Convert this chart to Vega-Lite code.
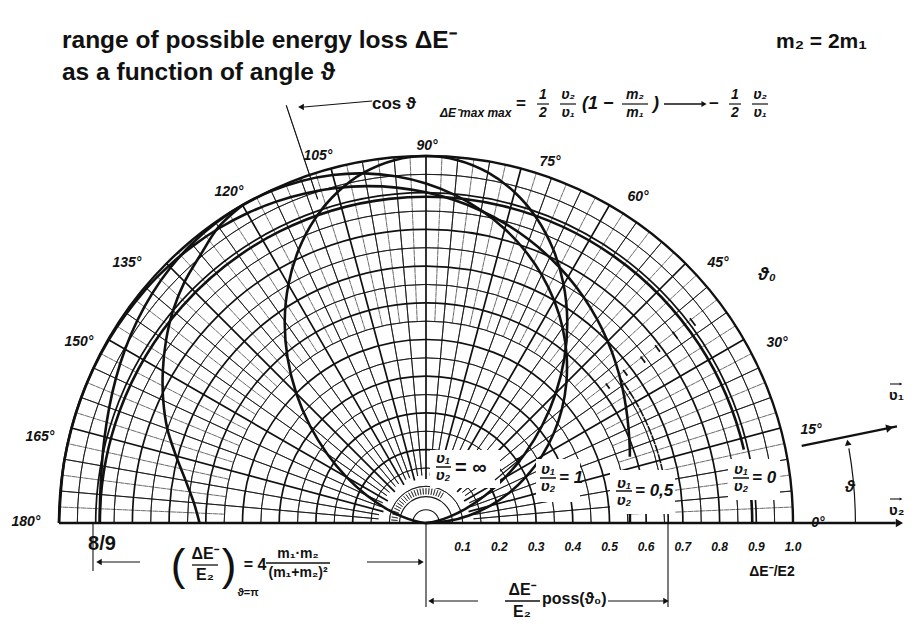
{
  "$schema": "https://vega.github.io/schema/vega-lite/v6.json",
  "width": 913,
  "height": 633,
  "padding": 0,
  "autosize": "none",
  "background": "white",
  "config": {
    "view": {"stroke": null},
    "text": {"font": "Liberation Sans, Arial, sans-serif", "fontWeight": "bold", "color": "#111"},
    "rule": {"color": "#111"},
    "point": {"color": "#111", "filled": true, "opacity": 1}
  },
  "data": {"values": [{}]},
  "datasets": {
    "circThin": [{"r": 0.1}, {"r": 0.15}, {"r": 0.25}, {"r": 0.35}, {"r": 0.45}, {"r": 0.55}, {"r": 0.65}, {"r": 0.75}, {"r": 0.85}, {"r": 0.95}],
    "circHeavy": [{"r": 0.2}, {"r": 0.3}, {"r": 0.4}, {"r": 0.5}, {"r": 0.6}, {"r": 0.7}, {"r": 0.8}, {"r": 0.9}],
    "spokeThin": [{"deg": 5}, {"deg": 10}, {"deg": 20}, {"deg": 25}, {"deg": 35}, {"deg": 40}, {"deg": 50}, {"deg": 55}, {"deg": 65}, {"deg": 70}, {"deg": 80}, {"deg": 85}, {"deg": 95}, {"deg": 100}, {"deg": 110}, {"deg": 115}, {"deg": 125}, {"deg": 130}, {"deg": 140}, {"deg": 145}, {"deg": 155}, {"deg": 160}, {"deg": 170}, {"deg": 175}],
    "spokeHeavy": [{"deg": 15}, {"deg": 30}, {"deg": 45}, {"deg": 60}, {"deg": 75}, {"deg": 90}, {"deg": 105}, {"deg": 120}, {"deg": 135}, {"deg": 150}, {"deg": 165}],
    "spokeHalf": [{"deg": 2.5}, {"deg": 7.5}, {"deg": 12.5}, {"deg": 17.5}, {"deg": 22.5}, {"deg": 27.5}, {"deg": 32.5}, {"deg": 37.5}, {"deg": 42.5}, {"deg": 47.5}, {"deg": 52.5}, {"deg": 57.5}, {"deg": 62.5}, {"deg": 67.5}, {"deg": 72.5}, {"deg": 77.5}, {"deg": 82.5}, {"deg": 87.5}, {"deg": 92.5}, {"deg": 97.5}, {"deg": 102.5}, {"deg": 107.5}, {"deg": 112.5}, {"deg": 117.5}, {"deg": 122.5}, {"deg": 127.5}, {"deg": 132.5}, {"deg": 137.5}, {"deg": 142.5}, {"deg": 147.5}, {"deg": 152.5}, {"deg": 157.5}, {"deg": 162.5}, {"deg": 167.5}, {"deg": 172.5}, {"deg": 177.5}],
    "ring": [{"deg": 60}, {"deg": 65}, {"deg": 70}, {"deg": 75}, {"deg": 80}, {"deg": 85}, {"deg": 90}, {"deg": 95}, {"deg": 100}, {"deg": 105}, {"deg": 110}, {"deg": 115}, {"deg": 120}, {"deg": 125}, {"deg": 130}, {"deg": 135}, {"deg": 140}, {"deg": 145}, {"deg": 150}, {"deg": 155}, {"deg": 160}, {"deg": 165}, {"deg": 170}, {"deg": 175}],
    "inner": [{"r": 0.036}, {"r": 0.072}],
    "rayTicks": [{"r": 0.62}, {"r": 0.68}, {"r": 0.74}, {"r": 0.79}, {"r": 0.85}, {"r": 0.91}],
    "ticks": [{"v": 0.1, "lab": "0.1"}, {"v": 0.2, "lab": "0.2"}, {"v": 0.3, "lab": "0.3"}, {"v": 0.4, "lab": "0.4"}, {"v": 0.5, "lab": "0.5"}, {"v": 0.6, "lab": "0.6"}, {"v": 0.7, "lab": "0.7"}, {"v": 0.8, "lab": "0.8"}, {"v": 0.9, "lab": "0.9"}, {"v": 1.0, "lab": "1.0"}],
    "curves": [
      {"c": "inf", "t": 0, "x": 0, "y": 0}, {"c": "inf", "t": 5, "x": 0.0076, "y": 0.0007}, {"c": "inf", "t": 10, "x": 0.0297, "y": 0.0052}, {"c": "inf", "t": 15, "x": 0.0647, "y": 0.0173}, {"c": "inf", "t": 20, "x": 0.1099, "y": 0.04}, {"c": "inf", "t": 25, "x": 0.1619, "y": 0.0755}, {"c": "inf", "t": 30, "x": 0.2165, "y": 0.125}, {"c": "inf", "t": 35, "x": 0.2695, "y": 0.1887}, {"c": "inf", "t": 40, "x": 0.3165, "y": 0.2656}, {"c": "inf", "t": 45, "x": 0.3536, "y": 0.3536}, {"c": "inf", "t": 50, "x": 0.3772, "y": 0.4495}, {"c": "inf", "t": 55, "x": 0.3849, "y": 0.5497}, {"c": "inf", "t": 60, "x": 0.375, "y": 0.6495}, {"c": "inf", "t": 65, "x": 0.3471, "y": 0.7444}, {"c": "inf", "t": 70, "x": 0.302, "y": 0.8298}, {"c": "inf", "t": 75, "x": 0.2415, "y": 0.9012}, {"c": "inf", "t": 80, "x": 0.1684, "y": 0.9551}, {"c": "inf", "t": 85, "x": 0.0865, "y": 0.9886}, {"c": "inf", "t": 90, "x": 0, "y": 1}, {"c": "inf", "t": 95, "x": -0.0865, "y": 0.9886}, {"c": "inf", "t": 100, "x": -0.1684, "y": 0.9551}, {"c": "inf", "t": 105, "x": -0.2415, "y": 0.9012}, {"c": "inf", "t": 110, "x": -0.302, "y": 0.8298}, {"c": "inf", "t": 115, "x": -0.3471, "y": 0.7444}, {"c": "inf", "t": 120, "x": -0.375, "y": 0.6495}, {"c": "inf", "t": 125, "x": -0.3849, "y": 0.5497}, {"c": "inf", "t": 130, "x": -0.3772, "y": 0.4495}, {"c": "inf", "t": 135, "x": -0.3536, "y": 0.3536}, {"c": "inf", "t": 140, "x": -0.3165, "y": 0.2656}, {"c": "inf", "t": 145, "x": -0.2695, "y": 0.1887}, {"c": "inf", "t": 150, "x": -0.2165, "y": 0.125}, {"c": "inf", "t": 155, "x": -0.1619, "y": 0.0755}, {"c": "inf", "t": 160, "x": -0.1099, "y": 0.04}, {"c": "inf", "t": 165, "x": -0.0647, "y": 0.0173}, {"c": "inf", "t": 170, "x": -0.0297, "y": 0.0052}, {"c": "inf", "t": 175, "x": -0.0076, "y": 0.0007}, {"c": "inf", "t": 180, "x": 0, "y": 0},
      {"c": "one", "t": 0, "x": 0, "y": 0}, {"c": "one", "t": 5, "x": 0.0588, "y": 0.0051}, {"c": "one", "t": 10, "x": 0.1174, "y": 0.0207}, {"c": "one", "t": 15, "x": 0.1741, "y": 0.0467}, {"c": "one", "t": 20, "x": 0.2272, "y": 0.0827}, {"c": "one", "t": 25, "x": 0.2749, "y": 0.1282}, {"c": "one", "t": 30, "x": 0.3156, "y": 0.1822}, {"c": "one", "t": 35, "x": 0.3479, "y": 0.2436}, {"c": "one", "t": 40, "x": 0.3705, "y": 0.3109}, {"c": "one", "t": 45, "x": 0.3825, "y": 0.3825}, {"c": "one", "t": 50, "x": 0.3832, "y": 0.4567}, {"c": "one", "t": 55, "x": 0.3723, "y": 0.5317}, {"c": "one", "t": 60, "x": 0.3495, "y": 0.6054}, {"c": "one", "t": 65, "x": 0.3153, "y": 0.6761}, {"c": "one", "t": 70, "x": 0.27, "y": 0.7419}, {"c": "one", "t": 75, "x": 0.2147, "y": 0.8011}, {"c": "one", "t": 80, "x": 0.1503, "y": 0.8522}, {"c": "one", "t": 85, "x": 0.0782, "y": 0.8939}, {"c": "one", "t": 90, "x": 0, "y": 0.925}, {"c": "one", "t": 95, "x": -0.0827, "y": 0.9447}, {"c": "one", "t": 100, "x": -0.168, "y": 0.9526}, {"c": "one", "t": 105, "x": -0.2541, "y": 0.9484}, {"c": "one", "t": 110, "x": -0.3393, "y": 0.9322}, {"c": "one", "t": 115, "x": -0.4218, "y": 0.9045}, {"c": "one", "t": 120, "x": -0.5, "y": 0.866}, {"c": "one", "t": 125, "x": -0.5725, "y": 0.8176}, {"c": "one", "t": 130, "x": -0.6382, "y": 0.7605}, {"c": "one", "t": 135, "x": -0.6961, "y": 0.6961}, {"c": "one", "t": 140, "x": -0.7458, "y": 0.6258}, {"c": "one", "t": 145, "x": -0.787, "y": 0.551}, {"c": "one", "t": 150, "x": -0.8199, "y": 0.4734}, {"c": "one", "t": 155, "x": -0.845, "y": 0.394}, {"c": "one", "t": 160, "x": -0.8633, "y": 0.3142}, {"c": "one", "t": 165, "x": -0.8757, "y": 0.2346}, {"c": "one", "t": 170, "x": -0.8834, "y": 0.1558}, {"c": "one", "t": 175, "x": -0.8876, "y": 0.0777}, {"c": "one", "t": 180, "x": -0.8889, "y": 0},
      {"c": "oneB", "t": 120, "x": -0.5, "y": 0.866}, {"c": "oneB", "t": 125, "x": -0.565, "y": 0.8069}, {"c": "oneB", "t": 130, "x": -0.6139, "y": 0.7316}, {"c": "oneB", "t": 135, "x": -0.6576, "y": 0.6576}, {"c": "oneB", "t": 140, "x": -0.6894, "y": 0.5785}, {"c": "oneB", "t": 145, "x": -0.7086, "y": 0.4962}, {"c": "oneB", "t": 150, "x": -0.7171, "y": 0.414}, {"c": "oneB", "t": 155, "x": -0.716, "y": 0.3339}, {"c": "oneB", "t": 160, "x": -0.7048, "y": 0.2565}, {"c": "oneB", "t": 165, "x": -0.681, "y": 0.1825}, {"c": "oneB", "t": 170, "x": -0.6549, "y": 0.1155}, {"c": "oneB", "t": 175, "x": -0.6326, "y": 0.0554}, {"c": "oneB", "t": 180, "x": -0.617, "y": 0},
      {"c": "half", "t": 18, "x": 0.5554, "y": 0.1805}, {"c": "half", "t": 20, "x": 0.5553, "y": 0.2021}, {"c": "half", "t": 25, "x": 0.5519, "y": 0.2574}, {"c": "half", "t": 30, "x": 0.5451, "y": 0.3147}, {"c": "half", "t": 35, "x": 0.534, "y": 0.3739}, {"c": "half", "t": 40, "x": 0.5175, "y": 0.4342}, {"c": "half", "t": 45, "x": 0.495, "y": 0.495}, {"c": "half", "t": 50, "x": 0.466, "y": 0.5553}, {"c": "half", "t": 55, "x": 0.4301, "y": 0.6142}, {"c": "half", "t": 60, "x": 0.3872, "y": 0.6706}, {"c": "half", "t": 65, "x": 0.3373, "y": 0.7234}, {"c": "half", "t": 70, "x": 0.2809, "y": 0.7717}, {"c": "half", "t": 75, "x": 0.2182, "y": 0.8145}, {"c": "half", "t": 80, "x": 0.15, "y": 0.8508}, {"c": "half", "t": 85, "x": 0.077, "y": 0.8799}, {"c": "half", "t": 90, "x": 0, "y": 0.9011}, {"c": "half", "t": 95, "x": -0.08, "y": 0.9139}, {"c": "half", "t": 100, "x": -0.1618, "y": 0.9178}, {"c": "half", "t": 105, "x": -0.2446, "y": 0.9128}, {"c": "half", "t": 110, "x": -0.3271, "y": 0.8987}, {"c": "half", "t": 115, "x": -0.4083, "y": 0.8757}, {"c": "half", "t": 120, "x": -0.4872, "y": 0.8439}, {"c": "half", "t": 125, "x": -0.5628, "y": 0.8038}, {"c": "half", "t": 130, "x": -0.6342, "y": 0.7559}, {"c": "half", "t": 135, "x": -0.7007, "y": 0.7007}, {"c": "half", "t": 140, "x": -0.7616, "y": 0.6391}, {"c": "half", "t": 150, "x": -0.8644, "y": 0.499}, {"c": "half", "t": 160, "x": -0.9393, "y": 0.3419}, {"c": "half", "t": 170, "x": -0.9848, "y": 0.1736}, {"c": "half", "t": 180, "x": -1, "y": 0},
      {"c": "halfB", "t": 0, "x": 0.5556, "y": 0}, {"c": "halfB", "t": 4, "x": 0.5556, "y": 0.0389}
    ]
  },
  "layer": [
    {"data": {"name": "circThin"}, "mark": {"type": "arc", "filled": false, "stroke": "#111", "strokeWidth": 0.8, "theta": -1.5707963, "theta2": 1.5707963},
     "encoding": {"x": {"datum": 0, "type": "quantitative", "scale": {"domain": [-1.16076, 1.32698], "nice": false, "zero": false}, "axis": null},
                  "y": {"datum": 0, "type": "quantitative", "scale": {"domain": [-0.29973, 1.42507], "nice": false, "zero": false}, "axis": null},
                  "radius": {"field": "r", "type": "quantitative", "scale": {"type": "linear", "domain": [0, 1], "range": [0, 367], "zero": true, "nice": false}}, "radius2": {"field": "r"}}},
    {"data": {"name": "circHeavy"}, "mark": {"type": "arc", "filled": false, "stroke": "#111", "strokeWidth": 1.7, "theta": -1.5707963, "theta2": 1.5707963},
     "encoding": {"x": {"datum": 0, "type": "quantitative"}, "y": {"datum": 0, "type": "quantitative"}, "radius": {"field": "r", "type": "quantitative"}, "radius2": {"field": "r"}}},
    {"data": {"name": "spokeHalf"}, "mark": {"type": "arc", "filled": false, "stroke": "#111", "strokeWidth": 0.6, "strokeDash": [3, 3]},
     "encoding": {"x": {"datum": 0, "type": "quantitative"}, "y": {"datum": 0, "type": "quantitative"},
                  "theta": {"field": "deg", "type": "quantitative", "stack": null, "scale": {"type": "linear", "domain": [0, 180], "range": [1.5707963, -1.5707963], "zero": false, "nice": false}}, "theta2": {"field": "deg"},
                  "radius": {"datum": 0.55, "type": "quantitative"}, "radius2": {"datum": 1}}},
    {"data": {"name": "spokeThin"}, "mark": {"type": "arc", "filled": false, "stroke": "#111", "strokeWidth": 0.8},
     "encoding": {"x": {"datum": 0, "type": "quantitative"}, "y": {"datum": 0, "type": "quantitative"},
                  "theta": {"field": "deg", "type": "quantitative", "stack": null}, "theta2": {"field": "deg"},
                  "radius": {"datum": 0.13, "type": "quantitative"}, "radius2": {"datum": 1}}},
    {"data": {"name": "spokeHeavy"}, "mark": {"type": "arc", "filled": false, "stroke": "#111", "strokeWidth": 1.7},
     "encoding": {"x": {"datum": 0, "type": "quantitative"}, "y": {"datum": 0, "type": "quantitative"},
                  "theta": {"field": "deg", "type": "quantitative", "stack": null}, "theta2": {"field": "deg"},
                  "radius": {"datum": 0.12, "type": "quantitative"}, "radius2": {"datum": 1}}},
    {"data": {"name": "ring"}, "mark": {"type": "arc", "filled": false, "stroke": "#111", "strokeWidth": 0.6},
     "encoding": {"x": {"datum": 0, "type": "quantitative"}, "y": {"datum": 0, "type": "quantitative"},
                  "theta": {"field": "deg", "type": "quantitative", "stack": null}, "theta2": {"field": "deg"},
                  "radius": {"datum": 0.078, "type": "quantitative"}, "radius2": {"datum": 0.095}}},
    {"data": {"name": "inner"}, "mark": {"type": "arc", "filled": false, "stroke": "#111", "strokeWidth": 1.1, "theta": -1.5707963, "theta2": 1.5707963},
     "encoding": {"x": {"datum": 0, "type": "quantitative"}, "y": {"datum": 0, "type": "quantitative"}, "radius": {"field": "r", "type": "quantitative"}, "radius2": {"field": "r"}}},
    {"mark": {"type": "arc", "filled": false, "stroke": "#111", "strokeWidth": 2.4, "theta": -1.5707963, "theta2": 1.5707963},
     "encoding": {"x": {"datum": 0, "type": "quantitative"}, "y": {"datum": 0, "type": "quantitative"}, "radius": {"datum": 1, "type": "quantitative"}, "radius2": {"datum": 1}}},
    {"mark": {"type": "rule", "strokeWidth": 2.4},
     "encoding": {"x": {"datum": -1, "type": "quantitative"}, "x2": {"datum": 1.28}, "y": {"datum": 0, "type": "quantitative"}}},
    {"data": {"name": "curves"}, "mark": {"type": "line", "color": "#111", "strokeWidth": 2.6, "interpolate": "catmull-rom"},
     "encoding": {"x": {"field": "x", "type": "quantitative"}, "y": {"field": "y", "type": "quantitative"}, "detail": {"field": "c"}, "order": {"field": "t", "type": "quantitative"}}},
    {"mark": {"type": "arc", "filled": false, "stroke": "#111", "strokeWidth": 2.6, "theta": -1.5707963, "theta2": 1.3439},
     "encoding": {"x": {"datum": 0, "type": "quantitative"}, "y": {"datum": 0, "type": "quantitative"}, "radius": {"datum": 0.8889, "type": "quantitative"}, "radius2": {"datum": 0.8889}}},
    {"mark": {"type": "arc", "filled": false, "stroke": "#111", "strokeWidth": 2.6, "theta": 1.4835, "theta2": 1.5707963},
     "encoding": {"x": {"datum": 0, "type": "quantitative"}, "y": {"datum": 0, "type": "quantitative"}, "radius": {"datum": 0.8889, "type": "quantitative"}, "radius2": {"datum": 0.8889}}},
    {"mark": {"type": "arc", "filled": false, "stroke": "#111", "strokeWidth": 1.6, "strokeDash": [6, 4], "theta": 0.92502, "theta2": 1.5707963},
     "encoding": {"x": {"datum": 0, "type": "quantitative"}, "y": {"datum": 0, "type": "quantitative"}, "radius": {"datum": 0.66, "type": "quantitative"}, "radius2": {"datum": 0.66}}},
    {"data": {"name": "rayTicks"}, "mark": {"type": "arc", "filled": false, "stroke": "#111", "strokeWidth": 1.8, "theta": 0.911, "theta2": 0.939},
     "encoding": {"x": {"datum": 0, "type": "quantitative"}, "y": {"datum": 0, "type": "quantitative"}, "radius": {"field": "r", "type": "quantitative"}, "radius2": {"field": "r"}}},
    {"mark": {"type": "arc", "filled": false, "stroke": "#111", "strokeWidth": 0.9},
     "encoding": {"x": {"datum": 0, "type": "quantitative"}, "y": {"datum": 0, "type": "quantitative"},
                  "theta": {"datum": 108.5, "type": "quantitative", "stack": null}, "theta2": {"datum": 108.5},
                  "radius": {"datum": 0.93, "type": "quantitative"}, "radius2": {"datum": 1.2}}},
    {"mark": {"type": "rule", "strokeWidth": 1.1},
     "encoding": {"x": {"datum": -0.14714, "type": "quantitative"}, "x2": {"datum": -0.33242}, "y": {"datum": 1.14986, "type": "quantitative"}, "y2": {"datum": 1.13351}}},
    {"mark": {"type": "point", "shape": "triangle-left", "size": 45, "angle": 0},
     "encoding": {"x": {"datum": -0.3406, "type": "quantitative"}, "y": {"datum": 1.13351, "type": "quantitative"}}},
    {"mark": {"type": "arc", "filled": false, "stroke": "#111", "strokeWidth": 2.2},
     "encoding": {"x": {"datum": 0, "type": "quantitative"}, "y": {"datum": 0, "type": "quantitative"},
                  "theta": {"datum": 11.6, "type": "quantitative", "stack": null}, "theta2": {"datum": 11.6},
                  "radius": {"datum": 1.045, "type": "quantitative"}, "radius2": {"datum": 1.31}}},
    {"mark": {"type": "point", "shape": "triangle-right", "size": 70, "angle": -11.6},
     "encoding": {"x": {"datum": 1.26366, "type": "quantitative"}, "y": {"datum": 0.25939, "type": "quantitative"}}},
    {"mark": {"type": "arc", "filled": false, "stroke": "#111", "strokeWidth": 1.2, "theta": 1.3963, "theta2": 1.5707963},
     "encoding": {"x": {"datum": 0, "type": "quantitative"}, "y": {"datum": 0, "type": "quantitative"}, "radius": {"datum": 1.17, "type": "quantitative"}, "radius2": {"datum": 1.17}}},
    {"mark": {"type": "point", "shape": "triangle-up", "size": 45, "angle": -10},
     "encoding": {"x": {"datum": 1.14928, "type": "quantitative"}, "y": {"datum": 0.21923, "type": "quantitative"}}},
    {"mark": {"type": "point", "shape": "triangle-right", "size": 70},
     "encoding": {"x": {"datum": 1.29, "type": "quantitative"}, "y": {"datum": 0, "type": "quantitative"}}},
    {"mark": {"type": "rule", "strokeWidth": 1.1},
     "encoding": {"x": {"datum": 1.2643, "type": "quantitative"}, "x2": {"datum": 1.2916}, "y": {"datum": 0.37875, "type": "quantitative"}}},
    {"mark": {"type": "point", "shape": "triangle-right", "size": 10},
     "encoding": {"x": {"datum": 1.2943, "type": "quantitative"}, "y": {"datum": 0.37875, "type": "quantitative"}}},
    {"mark": {"type": "rule", "strokeWidth": 1.1},
     "encoding": {"x": {"datum": 1.2643, "type": "quantitative"}, "x2": {"datum": 1.2916}, "y": {"datum": 0.0654, "type": "quantitative"}}},
    {"mark": {"type": "point", "shape": "triangle-right", "size": 10},
     "encoding": {"x": {"datum": 1.2943, "type": "quantitative"}, "y": {"datum": 0.0654, "type": "quantitative"}}},
    {"mark": {"type": "rule", "strokeWidth": 1.1},
     "encoding": {"x": {"datum": 0, "type": "quantitative"}, "y": {"datum": 0, "type": "quantitative"}, "y2": {"datum": -0.22888}}},
    {"mark": {"type": "rule", "strokeWidth": 1.1},
     "encoding": {"x": {"datum": 0.6594, "type": "quantitative"}, "y": {"datum": 0, "type": "quantitative"}, "y2": {"datum": -0.22888}}},
    {"mark": {"type": "rule", "strokeWidth": 1.1},
     "encoding": {"x": {"datum": -0.90736, "type": "quantitative"}, "y": {"datum": 0, "type": "quantitative"}, "y2": {"datum": -0.13079}}},
    {"mark": {"type": "rule", "strokeWidth": 1.1},
     "encoding": {"x": {"datum": -0.77929, "type": "quantitative"}, "x2": {"datum": -0.89373}, "y": {"datum": -0.10627, "type": "quantitative"}}},
    {"mark": {"type": "point", "shape": "triangle-left", "size": 40},
     "encoding": {"x": {"datum": -0.891, "type": "quantitative"}, "y": {"datum": -0.10627, "type": "quantitative"}}},
    {"mark": {"type": "rule", "strokeWidth": 1.1},
     "encoding": {"x": {"datum": -0.16076, "type": "quantitative"}, "x2": {"datum": -0.0109}, "y": {"datum": -0.10627, "type": "quantitative"}}},
    {"mark": {"type": "point", "shape": "triangle-right", "size": 40},
     "encoding": {"x": {"datum": -0.0136, "type": "quantitative"}, "y": {"datum": -0.10627, "type": "quantitative"}}},
    {"mark": {"type": "rule", "strokeWidth": 1.1},
     "encoding": {"x": {"datum": 0.0109, "type": "quantitative"}, "x2": {"datum": 0.14169}, "y": {"datum": -0.2125, "type": "quantitative"}}},
    {"mark": {"type": "point", "shape": "triangle-left", "size": 40},
     "encoding": {"x": {"datum": 0.0136, "type": "quantitative"}, "y": {"datum": -0.2125, "type": "quantitative"}}},
    {"mark": {"type": "rule", "strokeWidth": 1.1},
     "encoding": {"x": {"datum": 0.49591, "type": "quantitative"}, "x2": {"datum": 0.6567}, "y": {"datum": -0.2125, "type": "quantitative"}}},
    {"mark": {"type": "point", "shape": "triangle-right", "size": 40},
     "encoding": {"x": {"datum": 0.654, "type": "quantitative"}, "y": {"datum": -0.2125, "type": "quantitative"}}},
    {"mark": {"type": "rect", "color": "white"},
     "encoding": {"x": {"datum": 0.0109, "type": "quantitative"}, "x2": {"datum": 0.20163}, "y": {"datum": 0.19891, "type": "quantitative"}, "y2": {"datum": 0.09537}}},
    {"mark": {"type": "rect", "color": "white"},
     "encoding": {"x": {"datum": 0.29973, "type": "quantitative"}, "x2": {"datum": 0.41962}, "y": {"datum": 0.17439, "type": "quantitative"}, "y2": {"datum": 0.05722}}},
    {"mark": {"type": "rect", "color": "white"},
     "encoding": {"x": {"datum": 0.50136, "type": "quantitative"}, "x2": {"datum": 0.67847}, "y": {"datum": 0.14441, "type": "quantitative"}, "y2": {"datum": 0.02452}}},
    {"mark": {"type": "rect", "color": "white"},
     "encoding": {"x": {"datum": 0.82289, "type": "quantitative"}, "x2": {"datum": 0.96458}, "y": {"datum": 0.17439, "type": "quantitative"}, "y2": {"datum": 0.06267}}},
    {"mark": {"type": "rule", "strokeWidth": 1.3},
     "encoding": {"x": {"datum": 0.18801, "type": "quantitative"}, "x2": {"datum": 0.2534}, "y": {"datum": 0.11717, "type": "quantitative"}, "y2": {"datum": 0.17166}}},
    {"mark": {"type": "point", "shape": "triangle-right", "size": 40, "angle": -40},
     "encoding": {"x": {"datum": 0.2561, "type": "quantitative"}, "y": {"datum": 0.17439, "type": "quantitative"}}},

    {"mark": {"type": "text", "fontSize": 24.5, "align": "left", "baseline": "alphabetic"},
     "encoding": {"x": {"datum": -0.99183, "type": "quantitative"}, "y": {"datum": 1.29428, "type": "quantitative"}, "text": {"value": "range of possible energy loss ΔE⁻"}}},
    {"mark": {"type": "text", "fontSize": 24.5, "align": "left", "baseline": "alphabetic"},
     "encoding": {"x": {"datum": -0.99183, "type": "quantitative"}, "y": {"datum": 1.20708, "type": "quantitative"}, "text": {"value": "as a  function of angle ϑ"}}},
    {"mark": {"type": "text", "fontSize": 21, "align": "left", "baseline": "alphabetic"},
     "encoding": {"x": {"datum": 0.95368, "type": "quantitative"}, "y": {"datum": 1.29428, "type": "quantitative"}, "text": {"value": "m₂ = 2m₁"}}},

    {"mark": {"type": "text", "fontSize": 17, "align": "left"},
     "encoding": {"x": {"datum": -0.14714, "type": "quantitative"}, "y": {"datum": 1.14169, "type": "quantitative"}, "text": {"value": "cos ϑ"}}},
    {"mark": {"type": "text", "fontSize": 12, "align": "left", "fontStyle": "italic"},
     "encoding": {"x": {"datum": 0.03815, "type": "quantitative"}, "y": {"datum": 1.11717, "type": "quantitative"}, "text": {"value": "ΔE⁻max max"}}},
    {"mark": {"type": "text", "fontSize": 17},
     "encoding": {"x": {"datum": 0.25886, "type": "quantitative"}, "y": {"datum": 1.14169, "type": "quantitative"}, "text": {"value": "="}}},
    {"mark": {"type": "text", "fontSize": 14, "fontStyle": "italic", "lineHeight": 18},
     "encoding": {"x": {"datum": 0.3188, "type": "quantitative"}, "y": {"datum": 1.16621, "type": "quantitative"}, "text": {"value": ["1", "2"]}}},
    {"mark": {"type": "rule", "strokeWidth": 1.2},
     "encoding": {"x": {"datum": 0.30245, "type": "quantitative"}, "x2": {"datum": 0.33515}, "y": {"datum": 1.14169, "type": "quantitative"}}},
    {"mark": {"type": "text", "fontSize": 14, "fontStyle": "italic", "lineHeight": 18},
     "encoding": {"x": {"datum": 0.38692, "type": "quantitative"}, "y": {"datum": 1.16621, "type": "quantitative"}, "text": {"value": ["ʋ₂", "ʋ₁"]}}},
    {"mark": {"type": "rule", "strokeWidth": 1.2},
     "encoding": {"x": {"datum": 0.36512, "type": "quantitative"}, "x2": {"datum": 0.40872}, "y": {"datum": 1.14169, "type": "quantitative"}}},
    {"mark": {"type": "text", "fontSize": 18, "align": "left", "fontStyle": "italic"},
     "encoding": {"x": {"datum": 0.42507, "type": "quantitative"}, "y": {"datum": 1.14169, "type": "quantitative"}, "text": {"value": "(1 −"}}},
    {"mark": {"type": "text", "fontSize": 14, "fontStyle": "italic", "lineHeight": 18},
     "encoding": {"x": {"datum": 0.56948, "type": "quantitative"}, "y": {"datum": 1.16621, "type": "quantitative"}, "text": {"value": ["m₂", "m₁"]}}},
    {"mark": {"type": "rule", "strokeWidth": 1.2},
     "encoding": {"x": {"datum": 0.53406, "type": "quantitative"}, "x2": {"datum": 0.6049}, "y": {"datum": 1.14169, "type": "quantitative"}}},
    {"mark": {"type": "text", "fontSize": 18, "fontStyle": "italic"},
     "encoding": {"x": {"datum": 0.6267, "type": "quantitative"}, "y": {"datum": 1.14169, "type": "quantitative"}, "text": {"value": ")"}}},
    {"mark": {"type": "rule", "strokeWidth": 1.3},
     "encoding": {"x": {"datum": 0.6485, "type": "quantitative"}, "x2": {"datum": 0.75204}, "y": {"datum": 1.14169, "type": "quantitative"}}},
    {"mark": {"type": "point", "shape": "triangle-right", "size": 35},
     "encoding": {"x": {"datum": 0.75749, "type": "quantitative"}, "y": {"datum": 1.14169, "type": "quantitative"}}},
    {"mark": {"type": "text", "fontSize": 17},
     "encoding": {"x": {"datum": 0.78474, "type": "quantitative"}, "y": {"datum": 1.14169, "type": "quantitative"}, "text": {"value": "−"}}},
    {"mark": {"type": "text", "fontSize": 14, "fontStyle": "italic", "lineHeight": 18},
     "encoding": {"x": {"datum": 0.84196, "type": "quantitative"}, "y": {"datum": 1.16621, "type": "quantitative"}, "text": {"value": ["1", "2"]}}},
    {"mark": {"type": "rule", "strokeWidth": 1.2},
     "encoding": {"x": {"datum": 0.82561, "type": "quantitative"}, "x2": {"datum": 0.85831}, "y": {"datum": 1.14169, "type": "quantitative"}}},
    {"mark": {"type": "text", "fontSize": 14, "fontStyle": "italic", "lineHeight": 18},
     "encoding": {"x": {"datum": 0.91008, "type": "quantitative"}, "y": {"datum": 1.16621, "type": "quantitative"}, "text": {"value": ["ʋ₂", "ʋ₁"]}}},
    {"mark": {"type": "rule", "strokeWidth": 1.2},
     "encoding": {"x": {"datum": 0.88828, "type": "quantitative"}, "x2": {"datum": 0.93188}, "y": {"datum": 1.14169, "type": "quantitative"}}},

    {"mark": {"type": "text", "fontSize": 14, "fontStyle": "italic"}, "encoding": {"x": {"datum": 0.00272, "type": "quantitative"}, "y": {"datum": 1.02725, "type": "quantitative"}, "text": {"value": "90°"}}},
    {"mark": {"type": "text", "fontSize": 14, "fontStyle": "italic"}, "encoding": {"x": {"datum": -0.29428, "type": "quantitative"}, "y": {"datum": 1.0, "type": "quantitative"}, "text": {"value": "105°"}}},
    {"mark": {"type": "text", "fontSize": 14, "fontStyle": "italic"}, "encoding": {"x": {"datum": -0.53678, "type": "quantitative"}, "y": {"datum": 0.90191, "type": "quantitative"}, "text": {"value": "120°"}}},
    {"mark": {"type": "text", "fontSize": 14, "fontStyle": "italic"}, "encoding": {"x": {"datum": -0.81471, "type": "quantitative"}, "y": {"datum": 0.70845, "type": "quantitative"}, "text": {"value": "135°"}}},
    {"mark": {"type": "text", "fontSize": 14, "fontStyle": "italic"}, "encoding": {"x": {"datum": -0.9455, "type": "quantitative"}, "y": {"datum": 0.49319, "type": "quantitative"}, "text": {"value": "150°"}}},
    {"mark": {"type": "text", "fontSize": 14, "fontStyle": "italic"}, "encoding": {"x": {"datum": -1.05177, "type": "quantitative"}, "y": {"datum": 0.23433, "type": "quantitative"}, "text": {"value": "165°"}}},
    {"mark": {"type": "text", "fontSize": 14, "fontStyle": "italic"}, "encoding": {"x": {"datum": -1.08992, "type": "quantitative"}, "y": {"datum": 0.00272, "type": "quantitative"}, "text": {"value": "180°"}}},
    {"mark": {"type": "text", "fontSize": 14, "fontStyle": "italic"}, "encoding": {"x": {"datum": 0.33787, "type": "quantitative"}, "y": {"datum": 0.98365, "type": "quantitative"}, "text": {"value": "75°"}}},
    {"mark": {"type": "text", "fontSize": 14, "fontStyle": "italic"}, "encoding": {"x": {"datum": 0.57766, "type": "quantitative"}, "y": {"datum": 0.88828, "type": "quantitative"}, "text": {"value": "60°"}}},
    {"mark": {"type": "text", "fontSize": 14, "fontStyle": "italic"}, "encoding": {"x": {"datum": 0.79564, "type": "quantitative"}, "y": {"datum": 0.70845, "type": "quantitative"}, "text": {"value": "45°"}}},
    {"mark": {"type": "text", "fontSize": 14, "fontStyle": "italic"}, "encoding": {"x": {"datum": 0.9564, "type": "quantitative"}, "y": {"datum": 0.49046, "type": "quantitative"}, "text": {"value": "30°"}}},
    {"mark": {"type": "text", "fontSize": 14, "fontStyle": "italic"}, "encoding": {"x": {"datum": 1.04905, "type": "quantitative"}, "y": {"datum": 0.25341, "type": "quantitative"}, "text": {"value": "15°"}}},
    {"mark": {"type": "text", "fontSize": 14, "fontStyle": "italic"}, "encoding": {"x": {"datum": 1.06812, "type": "quantitative"}, "y": {"datum": 0.0, "type": "quantitative"}, "text": {"value": "0°"}}},
    {"mark": {"type": "text", "fontSize": 18, "fontStyle": "italic"}, "encoding": {"x": {"datum": 0.92916, "type": "quantitative"}, "y": {"datum": 0.67575, "type": "quantitative"}, "text": {"value": "ϑ₀"}}},

    {"data": {"name": "ticks"}, "mark": {"type": "text", "fontSize": 12, "fontStyle": "italic"},
     "encoding": {"x": {"field": "v", "type": "quantitative"}, "y": {"datum": -0.0654, "type": "quantitative"}, "text": {"field": "lab"}}},
    {"mark": {"type": "text", "fontSize": 14}, "encoding": {"x": {"datum": 0.94278, "type": "quantitative"}, "y": {"datum": -0.13351, "type": "quantitative"}, "text": {"value": "ΔE⁻/E2"}}},
    {"mark": {"type": "text", "fontSize": 20}, "encoding": {"x": {"datum": -0.88283, "type": "quantitative"}, "y": {"datum": -0.05722, "type": "quantitative"}, "text": {"value": "8/9"}}},

    {"mark": {"type": "text", "fontSize": 44, "fontWeight": "normal"}, "encoding": {"x": {"datum": -0.67575, "type": "quantitative"}, "y": {"datum": -0.11989, "type": "quantitative"}, "text": {"value": "("}}},
    {"mark": {"type": "text", "fontSize": 44, "fontWeight": "normal"}, "encoding": {"x": {"datum": -0.53678, "type": "quantitative"}, "y": {"datum": -0.11989, "type": "quantitative"}, "text": {"value": ")"}}},
    {"mark": {"type": "text", "fontSize": 16, "lineHeight": 21}, "encoding": {"x": {"datum": -0.60218, "type": "quantitative"}, "y": {"datum": -0.08583, "type": "quantitative"}, "text": {"value": ["ΔE⁻", "E₂"]}}},
    {"mark": {"type": "rule", "strokeWidth": 1.3}, "encoding": {"x": {"datum": -0.6376, "type": "quantitative"}, "x2": {"datum": -0.56676}, "y": {"datum": -0.11444, "type": "quantitative"}}},
    {"mark": {"type": "text", "fontSize": 11}, "encoding": {"x": {"datum": -0.48501, "type": "quantitative"}, "y": {"datum": -0.19074, "type": "quantitative"}, "text": {"value": "ϑ=π"}}},
    {"mark": {"type": "text", "fontSize": 16}, "encoding": {"x": {"datum": -0.46594, "type": "quantitative"}, "y": {"datum": -0.11444, "type": "quantitative"}, "text": {"value": "= 4"}}},
    {"mark": {"type": "text", "fontSize": 14, "lineHeight": 19}, "encoding": {"x": {"datum": -0.34877, "type": "quantitative"}, "y": {"datum": -0.08311, "type": "quantitative"}, "text": {"value": ["m₁·m₂", "(m₁+m₂)²"]}}},
    {"mark": {"type": "rule", "strokeWidth": 1.3}, "encoding": {"x": {"datum": -0.43597, "type": "quantitative"}, "x2": {"datum": -0.26158}, "y": {"datum": -0.10899, "type": "quantitative"}}},

    {"mark": {"type": "text", "fontSize": 16, "lineHeight": 22}, "encoding": {"x": {"datum": 0.26158, "type": "quantitative"}, "y": {"datum": -0.18256, "type": "quantitative"}, "text": {"value": ["ΔE⁻", "E₂"]}}},
    {"mark": {"type": "rule", "strokeWidth": 1.3}, "encoding": {"x": {"datum": 0.21526, "type": "quantitative"}, "x2": {"datum": 0.31063}, "y": {"datum": -0.21253, "type": "quantitative"}}},
    {"mark": {"type": "text", "fontSize": 16, "align": "left"}, "encoding": {"x": {"datum": 0.31608, "type": "quantitative"}, "y": {"datum": -0.20708, "type": "quantitative"}, "text": {"value": "poss(ϑ₀)"}}},

    {"mark": {"type": "text", "fontSize": 15, "fontStyle": "italic", "lineHeight": 17}, "encoding": {"x": {"datum": 0.04632, "type": "quantitative"}, "y": {"datum": 0.17575, "type": "quantitative"}, "text": {"value": ["ʋ₁", "ʋ₂"]}}},
    {"mark": {"type": "rule", "strokeWidth": 1.5}, "encoding": {"x": {"datum": 0.02725, "type": "quantitative"}, "x2": {"datum": 0.06812}, "y": {"datum": 0.15259, "type": "quantitative"}}},
    {"mark": {"type": "text", "fontSize": 20, "align": "left"}, "encoding": {"x": {"datum": 0.07902, "type": "quantitative"}, "y": {"datum": 0.14986, "type": "quantitative"}, "text": {"value": "= ∞"}}},
    {"mark": {"type": "text", "fontSize": 15, "fontStyle": "italic", "lineHeight": 17}, "encoding": {"x": {"datum": 0.33243, "type": "quantitative"}, "y": {"datum": 0.14578, "type": "quantitative"}, "text": {"value": ["ʋ₁", "ʋ₂"]}}},
    {"mark": {"type": "rule", "strokeWidth": 1.5}, "encoding": {"x": {"datum": 0.31063, "type": "quantitative"}, "x2": {"datum": 0.35422}, "y": {"datum": 0.12262, "type": "quantitative"}}},
    {"mark": {"type": "text", "fontSize": 17, "align": "left", "fontStyle": "italic"}, "encoding": {"x": {"datum": 0.3624, "type": "quantitative"}, "y": {"datum": 0.12262, "type": "quantitative"}, "text": {"value": "= 1"}}},
    {"mark": {"type": "text", "fontSize": 15, "fontStyle": "italic", "lineHeight": 17}, "encoding": {"x": {"datum": 0.53951, "type": "quantitative"}, "y": {"datum": 0.11035, "type": "quantitative"}, "text": {"value": ["ʋ₁", "ʋ₂"]}}},
    {"mark": {"type": "rule", "strokeWidth": 1.5}, "encoding": {"x": {"datum": 0.51771, "type": "quantitative"}, "x2": {"datum": 0.56131}, "y": {"datum": 0.08719, "type": "quantitative"}}},
    {"mark": {"type": "text", "fontSize": 17, "align": "left", "fontStyle": "italic"}, "encoding": {"x": {"datum": 0.56948, "type": "quantitative"}, "y": {"datum": 0.08719, "type": "quantitative"}, "text": {"value": "= 0,5"}}},
    {"mark": {"type": "text", "fontSize": 15, "fontStyle": "italic", "lineHeight": 17}, "encoding": {"x": {"datum": 0.85831, "type": "quantitative"}, "y": {"datum": 0.14578, "type": "quantitative"}, "text": {"value": ["ʋ₁", "ʋ₂"]}}},
    {"mark": {"type": "rule", "strokeWidth": 1.5}, "encoding": {"x": {"datum": 0.83651, "type": "quantitative"}, "x2": {"datum": 0.88011}, "y": {"datum": 0.12262, "type": "quantitative"}}},
    {"mark": {"type": "text", "fontSize": 17, "align": "left", "fontStyle": "italic"}, "encoding": {"x": {"datum": 0.88828, "type": "quantitative"}, "y": {"datum": 0.12262, "type": "quantitative"}, "text": {"value": "= 0"}}},

    {"mark": {"type": "text", "fontSize": 15, "align": "left"}, "encoding": {"x": {"datum": 1.26158, "type": "quantitative"}, "y": {"datum": 0.34877, "type": "quantitative"}, "text": {"value": "ʋ₁"}}},
    {"mark": {"type": "text", "fontSize": 15, "align": "left"}, "encoding": {"x": {"datum": 1.26158, "type": "quantitative"}, "y": {"datum": 0.03542, "type": "quantitative"}, "text": {"value": "ʋ₂"}}},
    {"mark": {"type": "text", "fontSize": 17, "fontStyle": "italic"}, "encoding": {"x": {"datum": 1.15531, "type": "quantitative"}, "y": {"datum": 0.09809, "type": "quantitative"}, "text": {"value": "ϑ"}}}
  ]
}
